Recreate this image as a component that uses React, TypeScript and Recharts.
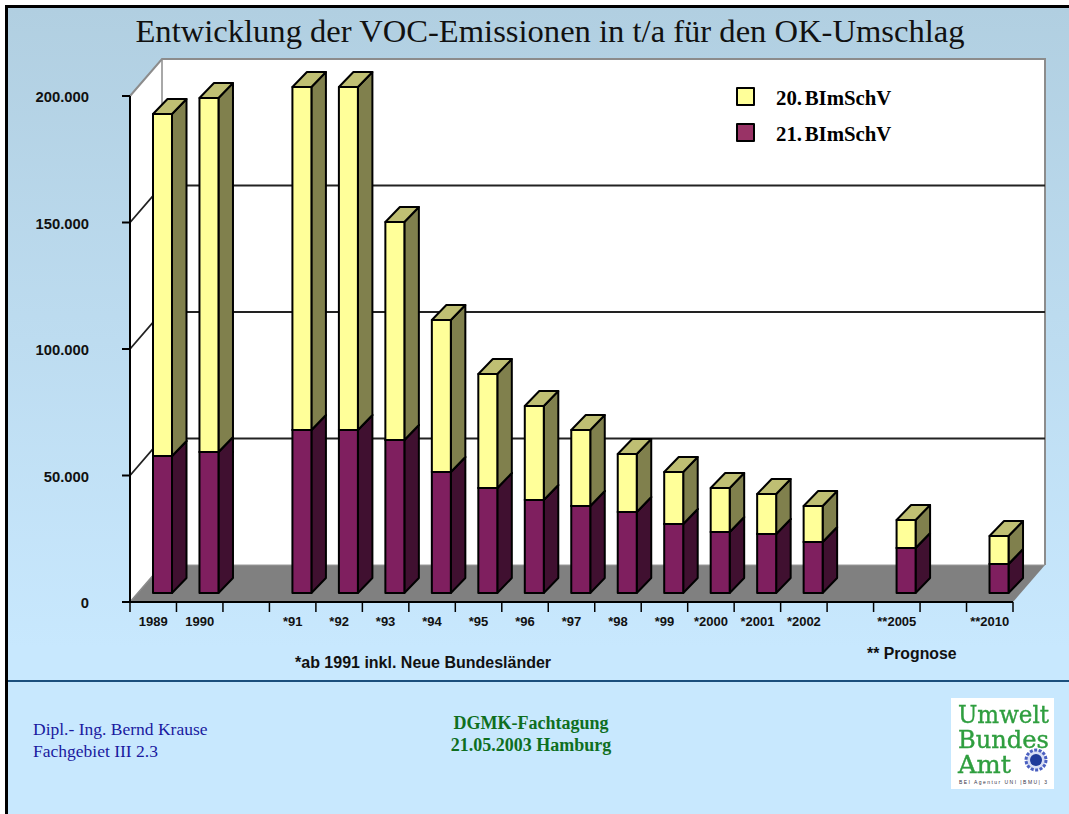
import { BarChart, Bar, XAxis, YAxis, ReferenceArea, Legend } from 'recharts';

const categories = ['1989', '1990', '', '*91', '*92', '*93', '*94', '*95', '*96', '*97', '*98', '*99', '*2000', '*2001', '*2002', '', '**2005', '', '**2010'];
const bimschv21 = [54150, 55730, null, 64430, 64430, 60475, 47830, 41500, 36760, 34390, 32000, 27270, 24100, 23320, 20160, null, 17790, null, 11460];
const bimschv20 = [135180, 139920, null, 135570, 135570, 86165, 60070, 45060, 37150, 30040, 22940, 20560, 17400, 15810, 14230, null, 11070, null, 11070];
const yTicks = [0, 50000, 100000, 150000, 200000];
const gridValues = [50000, 100000, 150000];
const Y_MAX = 200000;

const data = categories.map((year, i) => ({ year, a: bimschv21[i], b: bimschv20[i] }));

const W = 1069;
const H = 814;
const LEFT = 130;
const RIGHT = 1013;
const TOP = 96;
const BOTTOM = 602;
// depth of the fake 3d room and of the bars
const ROOM_X = 32;
const ROOM_Y = 37;
const BAR_SHIFT = 9;
const BAR_DX = 14.5;
const BAR_DY = 15;
const BAND = (RIGHT - LEFT) / categories.length;

const SANS = '"Liberation Sans", Arial, sans-serif';
const SERIF = '"Liberation Serif", "Times New Roman", serif';

function Box(props: any) {
  const { x, y, width, height, fill, side, top } = props;
  if (!height) return null;
  const l = x + BAR_SHIFT;
  const r = l + width;
  const t = y - BAR_SHIFT;
  const b = t + height;
  return (
    <g stroke="#000" strokeWidth={2} strokeLinejoin="round">
      <polygon points={`${r},${t} ${r + BAR_DX},${t - BAR_DY} ${r + BAR_DX},${b - BAR_DY} ${r},${b}`} fill={side} />
      <polygon points={`${l},${t} ${l + BAR_DX},${t - BAR_DY} ${r + BAR_DX},${t - BAR_DY} ${r},${t}`} fill={top} />
      <rect x={l} y={t} width={width} height={height} fill={fill} />
    </g>
  );
}

// wall, floor and grid lines, all behind the bars
function Room(props: any) {
  const { x, y, width, height } = props;
  const r = x + width;
  const b = y + height;
  const bx = x + ROOM_X;
  const ty = y - ROOM_Y;
  const by = b - ROOM_Y;
  return (
    <g>
      <polygon points={`${x},${y} ${bx},${ty} ${r + ROOM_X},${ty} ${r + ROOM_X},${by} ${bx},${by} ${x},${b}`} fill="#fff" />
      <polygon points={`${x},${b} ${bx},${by} ${r + ROOM_X},${by} ${r},${b}`} fill="#808080" />
      <polyline points={`${x},${y} ${bx},${ty} ${r + ROOM_X},${ty} ${r + ROOM_X},${by}`} fill="none" stroke="#8c8c8c" strokeWidth={2} />
      <polyline points={`${bx},${ty} ${bx},${by} ${x},${b}`} fill="none" stroke="#8c8c8c" strokeWidth={1.5} />
      <line x1={bx} y1={by} x2={r + ROOM_X} y2={by} stroke="#9a9a9a" strokeWidth={1} />
      {gridValues.map((v) => {
        const gy = b - (v / Y_MAX) * height;
        return (
          <polyline
            key={v}
            points={`${x},${gy} ${bx},${gy - ROOM_Y} ${r + ROOM_X},${gy - ROOM_Y}`}
            fill="none"
            stroke="#222"
            strokeWidth={1.8}
          />
        );
      })}
    </g>
  );
}

function YTick(props: any) {
  const { x, y, payload } = props;
  return (
    <g>
      <line x1={x - 8} y1={y} x2={x} y2={y} stroke="#000" strokeWidth={2} />
      <text x={x - 41} y={y + 6} textAnchor="end" fontFamily={SANS} fontWeight="bold" fontSize={14.8} fill="#111">
        {payload.value.toLocaleString('de-DE')}
      </text>
    </g>
  );
}

function XTick(props: any) {
  const { x, y, payload, index } = props;
  const last = index === categories.length - 1;
  return (
    <g>
      <line x1={x - BAND / 2} y1={y} x2={x - BAND / 2} y2={y + 10} stroke="#000" strokeWidth={1.5} />
      {last && <line x1={x + BAND / 2} y1={y} x2={x + BAND / 2} y2={y + 10} stroke="#000" strokeWidth={1.5} />}
      <text x={x} y={y + 24} textAnchor="middle" fontFamily={SANS} fontWeight="bold" fontSize={13} fill="#111">
        {payload.value}
      </text>
    </g>
  );
}

function LegendBox(props: any) {
  const items = props.payload ?? [];
  return (
    <div>
      {items.map((it: any) => (
        <div key={it.value} style={{ display: 'flex', alignItems: 'center', height: 36 }}>
          <span
            style={{
              width: 15,
              height: 15,
              background: it.value.startsWith('21') ? '#993366' : it.color,
              border: '2px solid #000',
              borderRadius: 1,
              marginRight: 21,
            }}
          />
          <span style={{ position: 'relative', top: 2, fontFamily: SERIF, fontWeight: 'bold', fontSize: 20.8, wordSpacing: -2.5, color: '#000' }}>{it.value}</span>
        </div>
      ))}
    </div>
  );
}

const label = (left: number, top: number, style: any = {}) => ({
  position: 'absolute' as const,
  left,
  top,
  whiteSpace: 'nowrap' as const,
  ...style,
});

function Logo() {
  return (
    <svg width={103} height={91} style={{ position: 'absolute', left: 951, top: 698, background: '#fff', overflow: 'visible' }}>
      <g fontFamily='"DejaVu Serif", serif' fontSize={25} fill="#2f9e3f" stroke="#2f9e3f" strokeWidth={0.4} style={{ filter: 'blur(0.4px)' }}>
        <text x={7} y={25} textLength={91} lengthAdjust="spacingAndGlyphs">Umwelt</text>
        <text x={7} y={50} textLength={91} lengthAdjust="spacingAndGlyphs">Bundes</text>
        <text x={7} y={75} textLength={53} lengthAdjust="spacingAndGlyphs">Amt</text>
      </g>
      <circle cx={85} cy={62} r={10} fill="#d8def4" stroke="#4a5fc0" strokeWidth={3} strokeDasharray="3 1.5" />
      <circle cx={85} cy={62} r={6} fill="#1f3a9a" />
      <text x={8} y={86} fontFamily={SANS} fontSize={5} fill="#334" textLength={88}>BEI Agentur UNI |BMU| 3</text>
    </svg>
  );
}

export default function App() {
  return (
    <div style={{ position: 'absolute', left: 0, top: 0, width: W, height: H, background: '#fff', overflow: 'hidden' }}>
      <div
        style={{
          position: 'absolute',
          left: 5,
          top: 5,
          width: W,
          height: H,
          borderLeft: '3px solid #000',
          borderTop: '3px solid #000',
          background: 'linear-gradient(#b1cfe1 0, #c8e8fe 640px)',
        }}
      />
      <div style={label(0, 13, { width: 1100, textAlign: 'center', fontFamily: SERIF, fontSize: 32.6, color: '#111' })}>
        Entwicklung der VOC-Emissionen in t/a für den OK-Umschlag
      </div>

      <div style={{ position: 'absolute', left: 0, top: 0 }}>
        <BarChart
          width={W}
          height={H}
          data={data}
          barSize={19}
          margin={{ top: TOP, right: W - RIGHT, bottom: H - BOTTOM - 40, left: 0 }}
        >
          <ReferenceArea y1={0} y2={Y_MAX} shape={<Room />} ifOverflow="visible" fillOpacity={1} />
          <XAxis dataKey="year" height={40} interval={0} tick={<XTick />} tickLine={false} tickSize={0} tickMargin={0} axisLine={{ stroke: '#000', strokeWidth: 2 }} />
          <YAxis
            width={LEFT}
            domain={[0, Y_MAX]}
            ticks={yTicks}
            tick={<YTick />}
            tickLine={false}
            tickSize={0}
            tickMargin={0}
            axisLine={{ stroke: '#000', strokeWidth: 2 }}
          />
          <Legend
            layout="horizontal"
            verticalAlign="middle"
            align="center"
            content={<LegendBox />}
            wrapperStyle={{ position: 'absolute', left: 736, top: 78, width: 220 }}
          />
          <Bar
            dataKey="a"
            name="21. BImSchV"
            stackId="s"
            fill="#7f1f5f"
            legendType="square"
            isAnimationActive={false}
            shape={(p: any) => <Box {...p} side="#401030" top="#602048" />}
          />
          <Bar
            dataKey="b"
            name="20. BImSchV"
            stackId="s"
            fill="#ffff99"
            legendType="square"
            isAnimationActive={false}
            shape={(p: any) => <Box {...p} side="#80804d" top="#bfbf73" />}
          />
        </BarChart>
      </div>

      <div style={label(295, 654, { fontFamily: SANS, fontWeight: 'bold', fontSize: 16, color: '#111' })}>*ab 1991 inkl. Neue Bundesländer</div>
      <div style={label(867, 645, { fontFamily: SANS, fontWeight: 'bold', fontSize: 15.8, color: '#111' })}>** Prognose</div>

      <div style={{ position: 'absolute', left: 8, top: 680, width: W, height: 1.5, background: '#1b4f7d' }} />

      <div style={label(33, 718, { fontFamily: SERIF, fontSize: 17.5, lineHeight: '22px', color: '#1a1aa0' })}>
        Dipl.- Ing. Bernd Krause
        <br />
        Fachgebiet III 2.3
      </div>
      <div style={label(431, 712, { width: 200, textAlign: 'center', fontFamily: SERIF, fontWeight: 'bold', fontSize: 18, lineHeight: '22px', color: '#0f6f1f' })}>
        DGMK-Fachtagung
        <br />
        21.05.2003 Hamburg
      </div>
      <Logo />
    </div>
  );
}
